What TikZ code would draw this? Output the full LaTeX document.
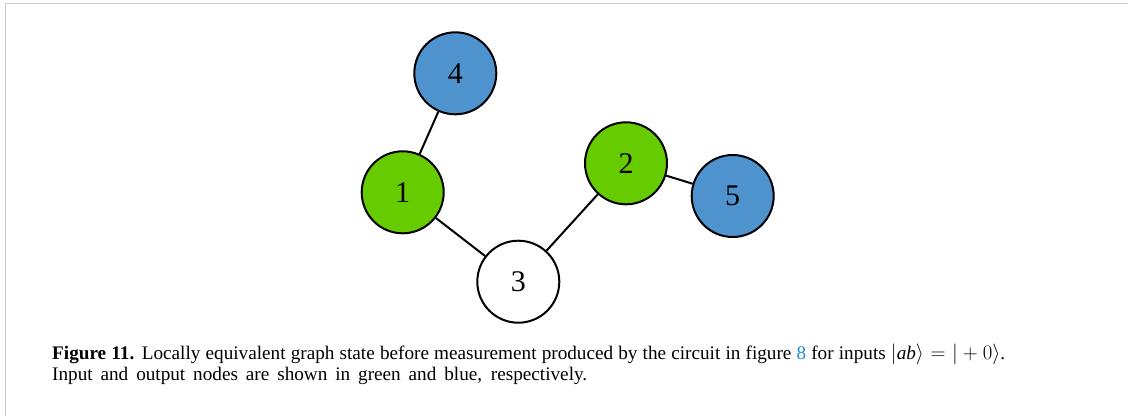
\documentclass[tikz,border=0pt]{standalone}
\usepackage{fontspec}
\setmainfont{Liberation Serif}
\definecolor{outblue}{RGB}{79,147,206}
\definecolor{ingreen}{RGB}{102,204,0}
\definecolor{framegray}{RGB}{200,200,200}
\definecolor{linkblue}{RGB}{30,140,205}
\tikzset{
  qubit/.style={circle, draw=black, line width=2pt, minimum size=82pt, inner sep=0pt,
                font=\fontsize{30}{30}\selectfont},
  inq/.style={qubit, fill=ingreen},
  outq/.style={qubit, fill=outblue},
  midq/.style={qubit, fill=white},
  bond/.style={line width=2pt},
  captionline/.style={anchor=base west, inner sep=0pt, font=\fontsize{19.2}{21}\selectfont}
}
\begin{document}
\begin{tikzpicture}[x=1pt, y=-1pt]
  \useasboundingbox (0,0) rectangle (1128,416);
  \fill[white] (0,0) rectangle (1128,416);
  % frame edges
  \draw[framegray, line width=1.5pt] (5.5,416) -- (5.5,3.5) -- (1128,3.5);

  % graph state vertices
  \node[outq] (n4) at (455.3,73.3) {4};
  \node[inq]  (n1) at (402.7,192.3) {1};
  \node[midq] (n3) at (518.3,281.7) {3};
  \node[inq]  (n2) at (626,163.3) {2};
  \node[outq] (n5) at (732.7,196) {5};

  % edges
  \draw[bond] (n4) -- (n1);
  \draw[bond] (n1) -- (n3);
  \draw[bond] (n3) -- (n2);
  \draw[bond] (n2) -- (n5);

  % caption, each line justified to its set width
  \node[captionline] (cap1) at (52,359.3)
    {\makebox[953pt][s]{\textbf{Figure 11.} Locally equivalent graph state before measurement produced by the circuit in figure \textcolor{linkblue}{8} for inputs $|\mbox{\itshape ab}\rangle = |+0\rangle$.}};
  \node[captionline] (cap2) at (52,380.5)
    {\makebox[535pt][s]{Input and output nodes are shown in green and blue, respectively.}};
\end{tikzpicture}
\end{document}
